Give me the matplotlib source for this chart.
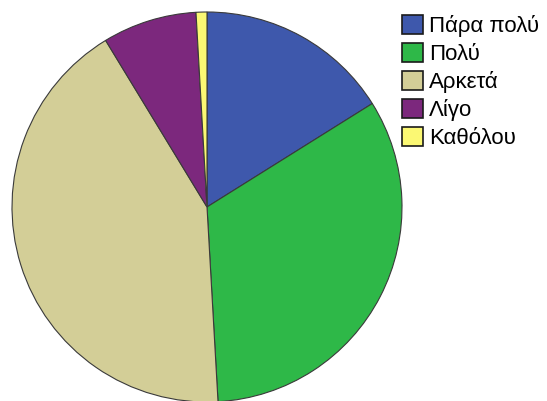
"""Pie chart of response shares with legend on the right."""

import matplotlib.pyplot as plt

labels = ["Πάρα πολύ", "Πολύ", "Αρκετά", "Λίγο", "Καθόλου"]
shares = [16.1, 33.0, 42.2, 7.8, 0.9]
colors = ["#3e58ac", "#2eb848", "#d3ce97", "#7c287d", "#fbf873"]

plt.rcParams["font.family"] = ["Liberation Sans", "DejaVu Sans"]

W, H = 547, 401
fig = plt.figure(figsize=(W / 100, H / 100), dpi=100)

# pie centred near (207, 207) px with ~195 px radius
cx, cy, r = 207, 207, 195
ax = fig.add_axes([(cx - r) / W, (H - cy - r) / H, 2 * r / W, 2 * r / H])
wedges, _ = ax.pie(
    shares,
    colors=colors,
    startangle=90,
    counterclock=False,
    radius=1.0,
    wedgeprops=dict(edgecolor="#3a3a3a", linewidth=0.8),
)
ax.set_xlim(-1.0, 1.0)
ax.set_ylim(-1.0, 1.0)
ax.axis("off")

leg = fig.legend(
    wedges,
    labels,
    loc="upper left",
    bbox_to_anchor=(402 / W, 1 - 15 / H),
    frameon=False,
    fontsize=16,
    handlelength=0.95,
    handleheight=0.95,
    handletextpad=0.25,
    labelspacing=0.26,
    borderpad=0,
    borderaxespad=0,
)
for h in leg.legend_handles:
    h.set_edgecolor("#1a1a1a")
    h.set_linewidth(1.2)

fig.savefig("out.png", dpi=100)
